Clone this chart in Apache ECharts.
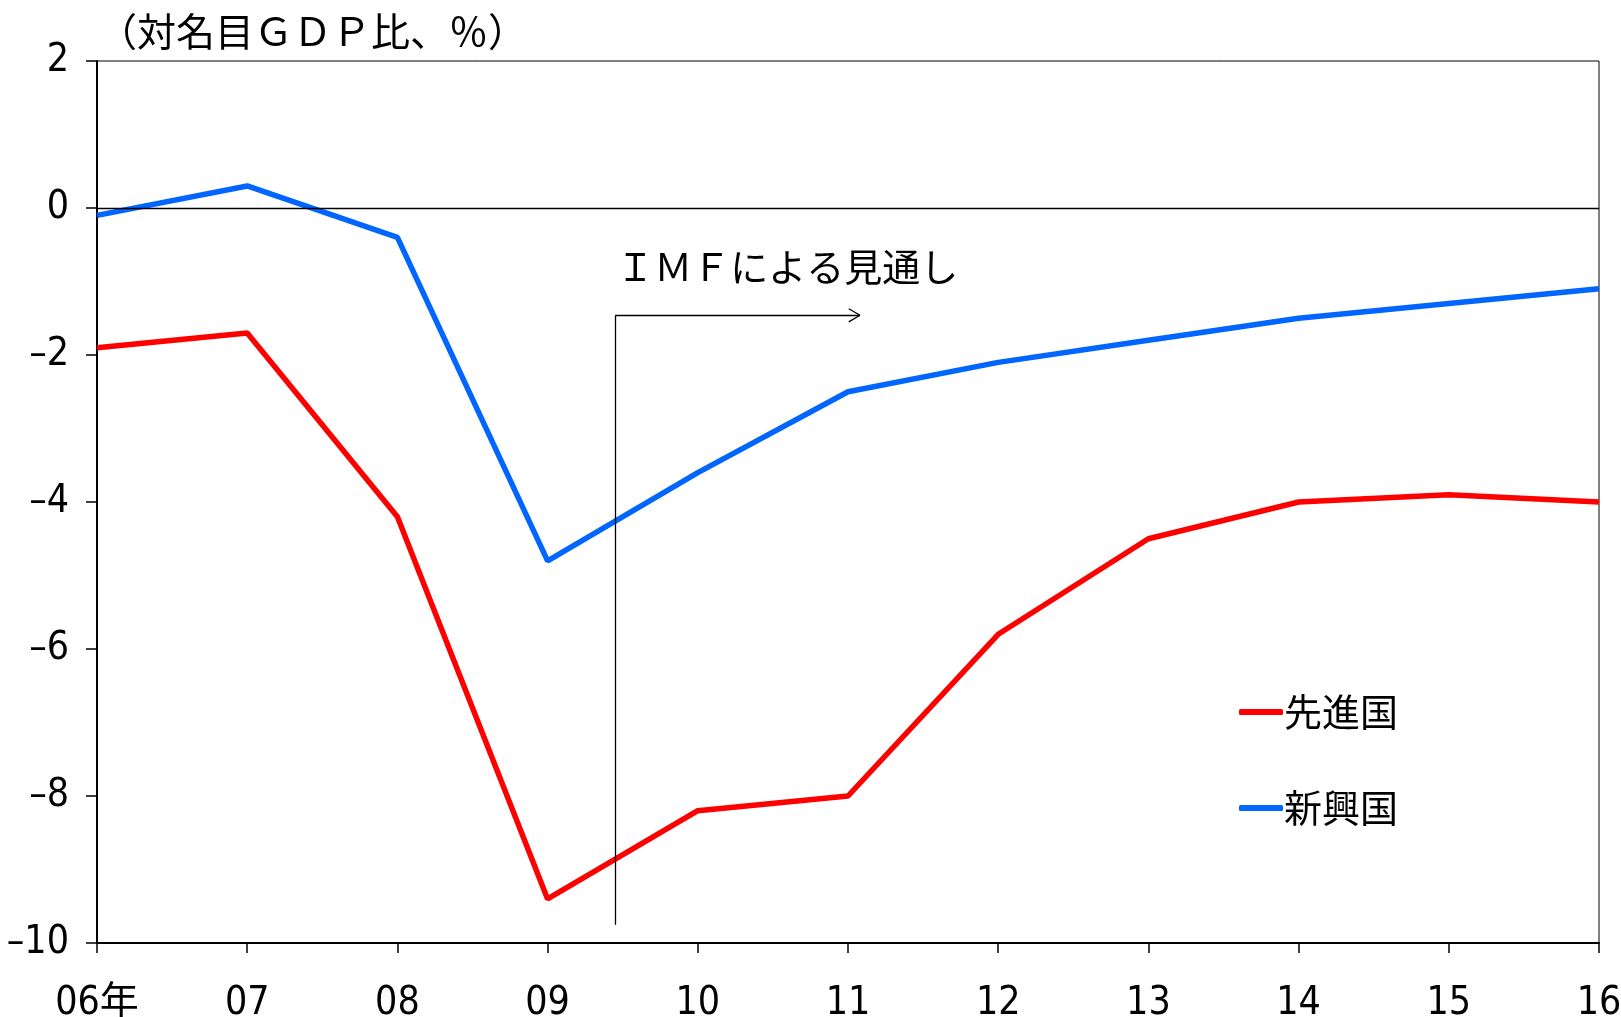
<!DOCTYPE html>
<html>
<head>
<meta charset="utf-8">
<script src="https://cdn.jsdelivr.net/npm/echarts@6/dist/echarts.min.js"></script>
<style>
html, body { margin: 0; padding: 0; background: #fff; }
#chart { width: 1621px; height: 1017px; }
</style>
</head>
<body>
<div id="chart"></div>
<script>
// 財政収支（対名目GDP比）: 先進国と新興国
const years = ['06年', '07', '08', '09', '10', '11', '12', '13', '14', '15', '16'];
const advanced = [-1.9, -1.7, -4.2, -9.4, -8.2, -8.0, -5.8, -4.5, -4.0, -3.9, -4.0];
const emerging = [-0.1, 0.3, -0.4, -4.8, -3.6, -2.5, -2.1, -1.8, -1.5, -1.3, -1.1];
const yTicks = [-10, -8, -6, -4, -2, 0, 2];

// 見通し期間の開始位置（年の位置、09年と10年の間）
const forecastStart = 3.45;
const forecastArrowEnd = 5.08;

// 目盛の数字は幅の狭い書体で描く
const numFont = "'DejaVu Sans', 'Noto Sans CJK JP', sans-serif";
const numWeight = 'condensed';
const jpFont = "'Noto Sans CJK JP', sans-serif";

const toPairs = arr => arr.map((v, i) => [i, v]);

const chart = echarts.init(document.getElementById('chart'));
chart.setOption({
  animation: false,
  backgroundColor: '#fff',
  grid: {
    left: 97, right: 22, top: 61, bottom: 74,
    outerBoundsMode: 'none', containLabel: false,
    show: true, borderColor: '#000', borderWidth: 1
  },
  title: {
    text: '（対名目ＧＤＰ比、％）',
    left: 93, top: 7,
    textStyle: { fontFamily: jpFont, fontSize: 39, fontWeight: 'normal', color: '#000' }
  },
  legend: {
    orient: 'vertical',
    left: 1234, top: 688,
    itemWidth: 44, itemHeight: 6, itemGap: 58,
    icon: 'roundRect',
    textStyle: { fontFamily: jpFont, fontSize: 38, color: '#000', padding: [0, 0, 0, -4] },
    data: ['先進国', '新興国']
  },
  xAxis: {
    type: 'value',
    min: 0, max: years.length - 1, interval: 1,
    axisLine: { show: true, onZero: false, lineStyle: { color: '#000', width: 2 } },
    axisTick: { show: true, length: 10, lineStyle: { color: '#000', width: 1.5 } },
    splitLine: { show: false },
    axisLabel: {
      margin: 41,
      fontFamily: numFont, fontWeight: numWeight, fontSize: 39, color: '#000',
      formatter: v => years[v] !== undefined ? years[v] : ''
    }
  },
  yAxis: {
    type: 'value',
    min: yTicks[0], max: yTicks[yTicks.length - 1], interval: 2,
    axisLine: { show: true, onZero: false, lineStyle: { color: '#000', width: 2 } },
    axisTick: { show: true, length: 11, inside: false, lineStyle: { color: '#000', width: 1.5 } },
    splitLine: { show: false },
    axisLabel: {
      margin: 28,
      fontFamily: numFont, fontWeight: numWeight, fontSize: 39, color: '#000',
      formatter: v => (v < 0 ? '\u2013' + Math.abs(v) : String(v))
    }
  },
  series: [
    {
      name: '先進国', type: 'line',
      data: toPairs(advanced),
      showSymbol: false, symbol: 'none',
      lineStyle: { color: '#ff0000', width: 5.5 },
      itemStyle: { color: '#ff0000' },
      z: 3
    },
    {
      name: '新興国', type: 'line',
      data: toPairs(emerging),
      showSymbol: false, symbol: 'none',
      lineStyle: { color: '#0066ff', width: 5.5 },
      itemStyle: { color: '#0066ff' },
      z: 3,
      markLine: {
        silent: true,
        symbol: ['none', 'none'],
        lineStyle: { color: '#000', width: 1.3, type: 'solid' },
        label: { show: false },
        emphasis: { disabled: true },
        data: [
          // ゼロ線
          [{ coord: [0, 0] }, { coord: [years.length - 1, 0] }],
          // 見通し期間の矢印
          [{ coord: [forecastStart, -9.75] }, { coord: [forecastStart, -1.46] }],
          [{ coord: [forecastStart, -1.46] }, { coord: [forecastArrowEnd, -1.46] }],
          [{ coord: [forecastArrowEnd - 0.075, -1.37] }, { coord: [forecastArrowEnd, -1.46] }],
          [{ coord: [forecastArrowEnd - 0.075, -1.55] }, { coord: [forecastArrowEnd, -1.46] }]
        ]
      },
      markPoint: {
        silent: true,
        symbol: 'rect', symbolSize: 1,
        itemStyle: { color: 'transparent' },
        label: {
          show: true,
          position: 'right',
          formatter: 'ＩＭＦによる見通し',
          fontFamily: jpFont, fontSize: 38, color: '#000'
        },
        data: [{ coord: [forecastStart - 0.03, -0.8] }]
      }
    }
  ]
});
</script>
</body>
</html>
